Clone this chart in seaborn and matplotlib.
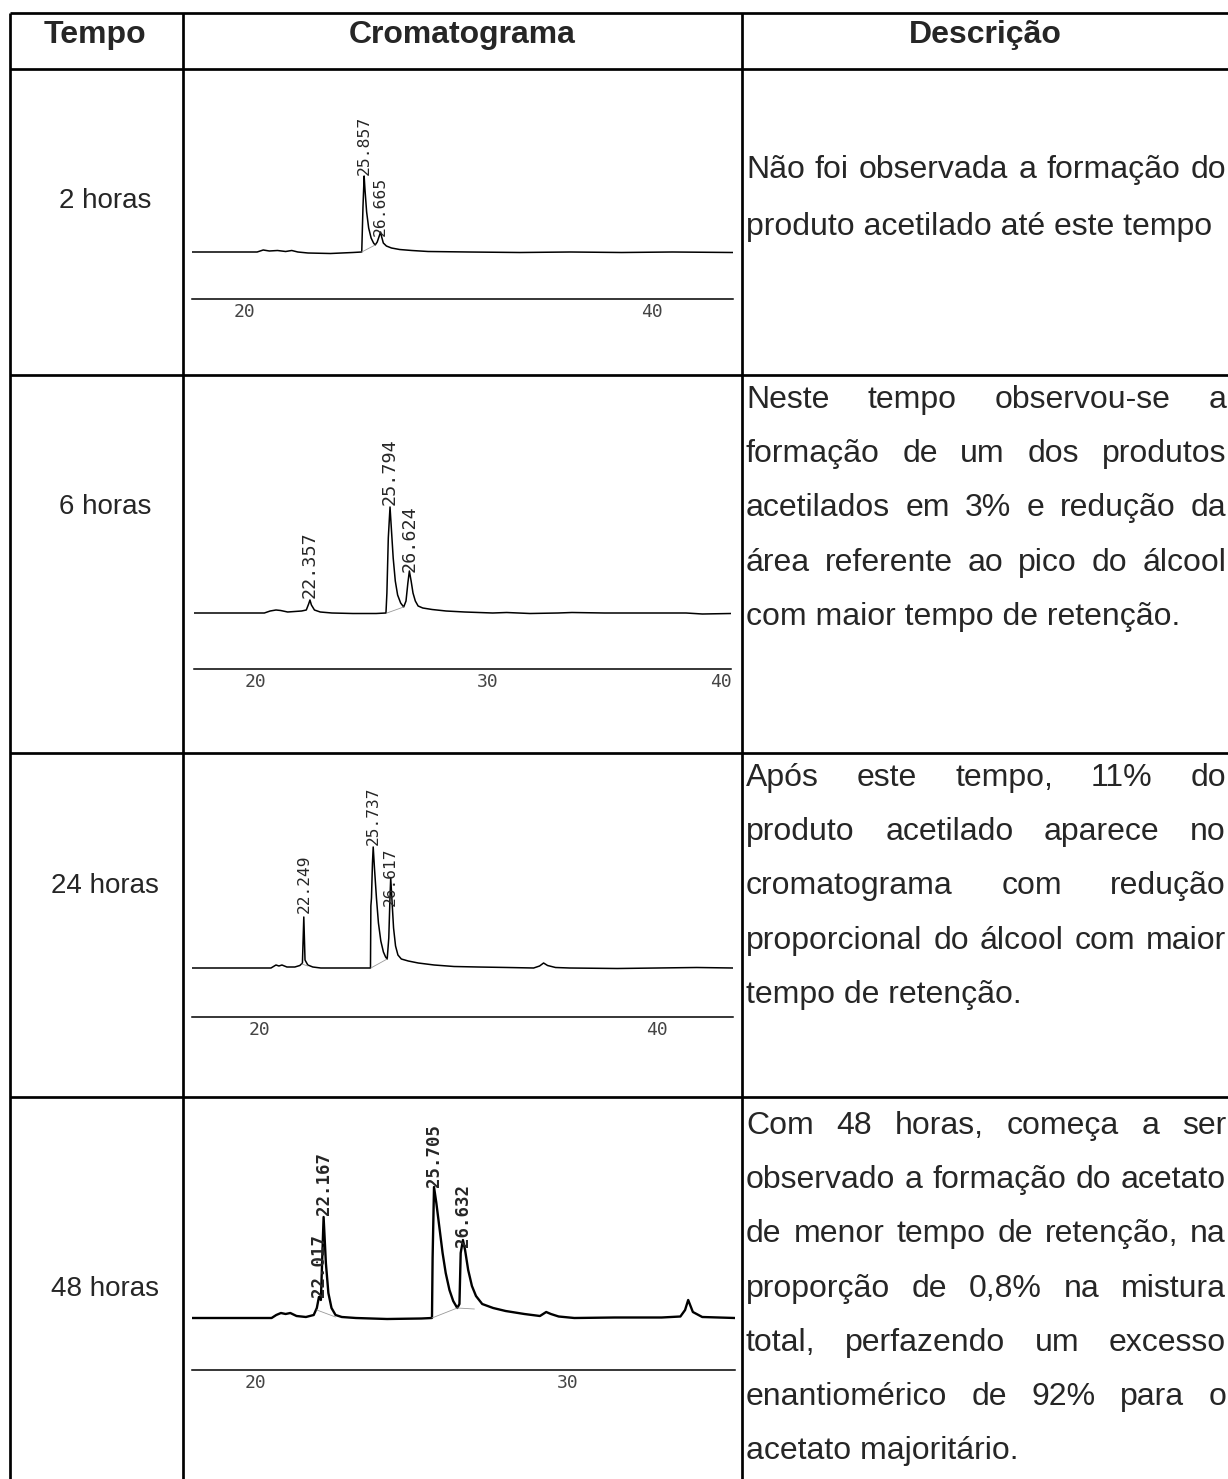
import numpy as np
import matplotlib.pyplot as plt
import seaborn as sns

sns.set_style("white")
plt.rcParams["font.family"] = ["Liberation Sans", "DejaVu Sans"]

W, H = 1228, 1479

# ---- table text ----
cabecalho = ["Tempo", "Cromatograma", "Descrição"]
tempos = ["2 horas", "6 horas", "24 horas", "48 horas"]

desc_2h = ["Não foi observada a formação do",
           "produto acetilado até este tempo"]
desc_6h = ["Neste tempo observou-se a",
           "formação de um dos produtos",
           "acetilados em 3% e redução da",
           "área referente ao pico do álcool",
           "com maior tempo de retenção."]
desc_24h = ["Após este tempo, 11% do",
            "produto acetilado aparece no",
            "cromatograma com redução",
            "proporcional do álcool com maior",
            "tempo de retenção."]
desc_48h = ["Com 48 horas, começa a ser",
            "observado a formação do acetato",
            "de menor tempo de retenção, na",
            "proporção de 0,8% na mistura",
            "total, perfazendo um excesso",
            "enantiomérico de 92% para o",
            "acetato majoritário."]

# ---- chromatogram traces (retention time in min, signal above baseline) ----
t_2h = [17.4, 19.5, 20.6, 20.9, 21.2, 21.6, 22.0, 22.3, 22.6, 23.1, 24.2, 25.3,
        25.74, 25.80, 25.857, 25.90, 25.98, 26.08, 26.2, 26.32, 26.40, 26.50,
        26.60, 26.665, 26.72, 26.80, 26.95, 27.2, 27.6, 28.2, 29.0, 31.0, 33.5,
        36.0, 38.5, 41.0, 43.98]
s_2h = [0, 0, 0, 2, 1, 1.5, 0.5, 1.5, 0, -1, -1.5, -0.5,
        0, 45, 76, 62, 40, 24, 14, 9, 7, 10,
        16, 20, 15, 9, 6, 4, 2.5, 1.5, 0.5, 0, -0.5,
        0, -0.5, 0, -0.5]

t_6h = [17.38, 19.0, 20.4, 20.65, 20.9, 21.1, 21.4, 21.7, 22.0, 22.2, 22.30,
        22.357, 22.42, 22.55, 22.8, 23.3, 24.2, 25.2, 25.62, 25.66, 25.72,
        25.794, 25.85, 25.93, 26.02, 26.12, 26.25, 26.38, 26.48, 26.56, 26.624,
        26.70, 26.78, 26.88, 27.0, 27.2, 27.6, 28.2, 29.0, 30.2, 30.8, 31.8,
        33.0, 33.6, 35.0, 36.5, 38.5, 39.2, 40.43]
s_6h = [0, 0, 0, 2, 3, 2.5, 1, 1.5, 2, 3, 9,
        13, 8, 3, 1, 0, -0.5, -0.5, 0, 20, 75,
        106, 85, 55, 32, 18, 10, 6, 12, 30, 42,
        32, 20, 12, 7, 5, 3.5, 2, 1, 0, 0.5, -0.5,
        0, 0.5, 0, 0, 0, -1, -0.5]

t_24h = [16.63, 19.0, 20.6, 20.85, 21.0, 21.15, 21.4, 21.8, 22.05, 22.18,
         22.249, 22.31, 22.45, 22.7, 23.1, 24.5, 25.60, 25.62, 25.65, 25.70,
         25.737, 25.80, 25.90, 26.00, 26.12, 26.25, 26.36, 26.44, 26.52, 26.58,
         26.617, 26.68, 26.76, 26.86, 26.98, 27.15, 27.5, 28.0, 28.8, 29.8,
         31.0, 32.5, 33.8, 34.1, 34.3, 34.5, 34.9, 35.6, 38.0, 40.0, 42.0, 43.82]
s_24h = [0, 0, 0, 3, 2, 3, 1, 1, 2.5, 5,
         51, 8, 3, 1, 0, 0, 0, 62, 70, 105,
         121, 100, 70, 45, 27, 16, 11, 9, 30, 70,
         90, 68, 40, 22, 13, 9, 7, 5, 3, 1.5,
         1, 0.5, 0, 2, 5, 2.5, 0.5, 0, -0.5, 0, 0.5, 0]

t_48h = [17.95, 19.5, 20.5, 20.65, 20.8, 20.95, 21.1, 21.3, 21.6, 21.85, 21.95,
         22.017, 22.08, 22.167, 22.24, 22.32, 22.42, 22.55, 22.75, 23.2, 24.2,
         25.3, 25.64, 25.66, 25.705, 25.78, 25.88, 25.98, 26.08, 26.2, 26.32,
         26.45, 26.52, 26.56, 26.632, 26.70, 26.80, 26.92, 27.05, 27.25, 27.6,
         28.0, 28.6, 29.1, 29.3, 29.45, 29.7, 30.2, 31.5, 33.0, 33.6, 33.75,
         33.85, 34.0, 34.3, 35.35]
s_48h = [0, 0, 0, 3, 5, 4, 5, 2, 1, 3, 10,
         21, 18, 101, 55, 25, 10, 3, 1, 0, -1,
         -0.5, 0, 60, 131, 115, 90, 65, 45, 28, 17,
         10, 14, 65, 78, 68, 48, 32, 22, 14, 10,
         7, 4, 2, 6, 4, 1.5, 0, 0.5, 0.5, 1.5, 8,
         18, 6, 1, 0]

# integration baselines drawn by the integrator (thin grey)
base_2h = [[(25.74, 0), (26.40, 7)]]
base_6h = [[(25.66, 0), (26.38, 6)]]
base_24h = [[(22.15, 4), (22.45, 2)], [(25.62, 0), (26.44, 9)]]
base_48h = [[(21.95, 8), (22.55, 1)], [(25.64, 0), (26.45, 10), (27.0, 9)]]

# printed retention times and the height where each label starts
rt_2h, rt_2h_y = ["25.857", "26.665"], [76, 15]
rt_6h, rt_6h_y = ["22.357", "25.794", "26.624"], [14, 107, 40]
rt_24h, rt_24h_y = ["22.249", "25.737", "26.617"], [54, 122, 61]
rt_48h, rt_48h_y = ["22.017", "22.167", "25.705", "26.632"], [21, 103, 131, 71]

ticks_2h = [20, 40]
ticks_6h = [20, 30, 40]
ticks_24h = [20, 40]
ticks_48h = [20, 30]

# ---- layout (figure pixels) ----
COL_X = [10, 183, 742]
ROW_Y = [13, 69, 375, 753, 1097]
TXT_X0, TXT_X1 = 746, 1226
FS = 23
FS_TEMPO = 20
LW_TAB = 1.95

# trace, integration, labels, ticks, x0, x1, xlim, y time axis, y baseline, y top,
# trace width, label size, bold labels
charts = [
    (t_2h, s_2h, base_2h, rt_2h, rt_2h_y, ticks_2h, 192, 733, (17.40, 43.98), 299, 252, 95, 1.1, 11.8, False),
    (t_6h, s_6h, base_6h, rt_6h, rt_6h_y, ticks_6h, 194, 731, (17.38, 40.43), 669, 613, 420, 1.1, 13.2, False),
    (t_24h, s_24h, base_24h, rt_24h, rt_24h_y, ticks_24h, 192, 733, (16.63, 43.82), 1017, 968, 770, 1.1, 11.6, False),
    (t_48h, s_48h, base_48h, rt_48h, rt_48h_y, ticks_48h, 192, 735, (17.95, 35.35), 1370, 1318, 1110, 1.7, 12.5, True),
]

fig = plt.figure(figsize=(W / 100, H / 100), dpi=100)
fig.set_facecolor("white")
ax = fig.add_axes([0, 0, 1, 1])
ax.set_xlim(0, W)
ax.set_ylim(H, 0)
ax.axis("off")

# table grid
for x in COL_X:
    ax.plot([x, x], [ROW_Y[0], H], color="black", lw=LW_TAB, solid_capstyle="butt")
for y in ROW_Y:
    ax.plot([COL_X[0], W], [y, y], color="black", lw=LW_TAB, solid_capstyle="butt")

# header
for txt, xc in zip(cabecalho, [95, 462, 985]):
    ax.text(xc, 43, txt, fontsize=FS, fontweight="bold", ha="center", va="baseline")

# tempo column
for txt, yb in zip(tempos, [208, 514, 893, 1296]):
    ax.text(105, yb, txt, fontsize=FS_TEMPO, ha="center", va="baseline")

renderer = fig.canvas.get_renderer()


def justified(words, y):
    ts = [ax.text(TXT_X0, y, w, fontsize=FS, ha="left", va="baseline") for w in words]
    ws = [t.get_window_extent(renderer).width for t in ts]
    gap = (TXT_X1 - TXT_X0 - sum(ws)) / (len(ts) - 1)
    x = TXT_X0
    for t, w in zip(ts, ws):
        t.set_x(x)
        x += w + gap


def paragraph(lines, y0, step=54.2):
    for i, line in enumerate(lines):
        y = y0 + i * step
        if i < len(lines) - 1:
            justified(line.split(" "), y)
        else:
            ax.text(TXT_X0, y, line, fontsize=FS, ha="left", va="baseline")


paragraph(desc_2h, 178, step=57)
paragraph(desc_6h, 408)
paragraph(desc_24h, 786)
paragraph(desc_48h, 1134)

# chromatograms
for (t, s, bases, rts, rty, ticks, x0, x1, xlim, y_ax, y_base, y_top, lw, lfs, bold) in charts:
    cax = fig.add_axes([x0 / W, 1 - y_ax / H, (x1 - x0) / W, (y_ax - y_top) / H])
    cax.set_facecolor("none")
    sns.lineplot(x=t, y=s, ax=cax, color="black", lw=lw, estimator=None, sort=False)
    for seg in bases:
        bx, by = zip(*seg)
        sns.lineplot(x=list(bx), y=list(by), ax=cax, color="#999999", lw=0.6,
                     estimator=None, sort=False)
    for lab, yl in zip(rts, rty):
        cax.text(float(lab), yl + (0 if bold else 1), lab, rotation=90,
                 ha="center", va="bottom", fontsize=lfs,
                 fontweight="bold" if bold else "normal",
                 family=["DejaVu Sans Mono"])
    cax.set_xlim(*xlim)
    cax.set_ylim(-(y_ax - y_base), y_base - y_top)
    cax.set_xticks(ticks)
    cax.set_xticklabels([str(v) for v in ticks], family=["DejaVu Sans Mono"],
                        fontsize=13, color="#444444")
    cax.set_yticks([])
    cax.set_xlabel("")
    cax.set_ylabel("")
    for side in ["top", "left", "right"]:
        cax.spines[side].set_visible(False)
    cax.spines["bottom"].set_color("black")
    cax.spines["bottom"].set_linewidth(1.1)
    cax.tick_params(axis="x", direction="in", length=3, width=0.8, pad=3, colors="#444444")

fig.savefig("out.png", dpi=100, facecolor="white")
